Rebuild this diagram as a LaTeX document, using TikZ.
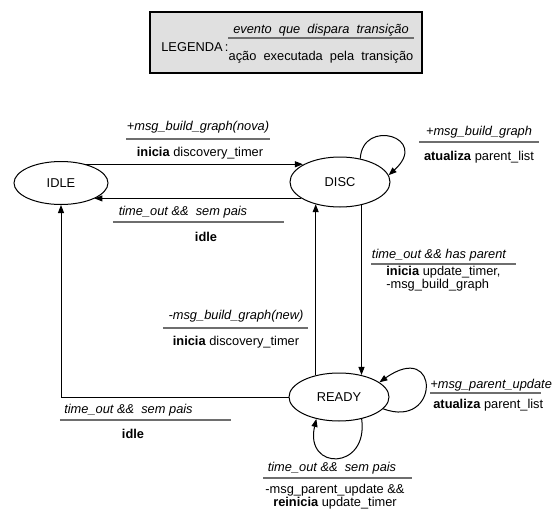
\documentclass[tikz,border=0pt]{standalone}
\usepackage{fontspec}
\setmainfont{Liberation Sans}
\usetikzlibrary{arrows.meta, shapes.geometric}

\tikzset{
  my_state/.style={ellipse, draw, line width=0.020000cm, fill=white, inner sep=0pt, font=\fontsize{7.3}{8}\selectfont},
  my_event/.style={inner sep=0pt, font=\fontsize{7.3}{8}\selectfont\itshape},
  my_action/.style={inner sep=0pt, align=center, font=\fontsize{7.3}{7.6}\selectfont},
  my_rule/.style={line width=0.030000cm, draw=my_dark},
  my_arrow/.style={line width=0.020000cm, -{Triangle[length=0.160000cm,width=0.120000cm]}},
}

\begin{document}
\begin{tikzpicture}
\definecolor{my_grey}{RGB}{224,224,224}
\definecolor{my_dark}{RGB}{110,110,110}
\useasboundingbox (0.000000, 0.000000) rectangle (11.160000, -10.300000);
\draw[line width=0.030000cm, fill=my_grey] (3.000000, -0.240000) rectangle (8.440000, -1.460000);
\node[my_action, anchor=west] (lgd) at (3.220000, -0.940000) {LEGENDA\,:};
\node[my_event] (lgd_ev) at (6.420000, -0.600000) {evento\ \ que\ \ dispara\ \ transição};
\node[my_action] (lgd_act) at (6.420000, -1.140000) {ação\ \ executada\ \ pela\ \ transição};
\draw[my_rule] (lgd_act.west |- 0,-0.760000) -- (lgd_act.east |- 0,-0.760000);
\node[my_state, minimum width=1.880000cm, minimum height=0.860000cm] (idle) at (1.220000, -3.660000) {IDLE};
\node[my_state, minimum width=2.000000cm, minimum height=1.000000cm] (disc) at (6.800000, -3.640000) {DISC};
\node[my_state, minimum width=2.000000cm, minimum height=0.960000cm] (ready) at (6.780000, -7.940000) {READY};
\draw[my_arrow] (idle.37) -- (idle.37 -| disc.155);
\draw[my_arrow] (disc.203) -- (disc.203 -| idle.335);
\draw[my_arrow] (disc.313) -- (disc.313 |- ready.45);
\draw[my_arrow] (ready.137) -- (ready.137 |- disc.222);
\draw[my_arrow] (ready.west) -| (idle.south);
\draw[my_arrow] (disc.49) .. controls +(0.040000, 0.820000) and +(0.840000, 0.760000) .. (disc.8);
\draw[my_arrow] (ready.345) .. controls +(1.140000, -0.420000) and +(1.220000, 0.860000) .. (ready.20);
\draw[my_arrow] (ready.316) .. controls +(0.140000, -1.040000) and +(-0.240000, -1.040000) .. (ready.224);
\node[my_event] (ev_nova) at (3.960000, -2.540000) {+msg\_build\_graph(nova)};
\draw[my_rule] (2.520000, -2.780000) -- (5.400000, -2.780000);
\node[my_action] (act_nova) at (4.000000, -3.060000) {\textbf{inicia} discovery\_timer};
\node[my_event] (ev_disc_idle) at (3.660000, -4.240000) {time\_out \&\&\ \ sem pais};
\draw[my_rule] (2.260000, -4.440000) -- (5.680000, -4.440000);
\node[my_action] (act_disc_idle) at (4.120000, -4.740000) {\textbf{idle}};
\node[my_event] (ev_disc_loop) at (9.580000, -2.640000) {+msg\_build\_graph};
\draw[my_rule] (8.380000, -2.840000) -- (10.780000, -2.840000);
\node[my_action] (act_disc_loop) at (9.580000, -3.140000) {\textbf{atualiza} parent\_list};
\node[my_event] (ev_parent) at (8.780000, -5.100000) {time\_out \&\& has parent};
\draw[my_rule] (7.420000, -5.280000) -- (10.320000, -5.280000);
\node[my_action, anchor=west, align=left] (act_parent) at (7.720000, -5.580000) {\textbf{inicia} update\_timer,\\-msg\_build\_graph};
\node[my_event] (ev_new) at (4.720000, -6.320000) {-msg\_build\_graph(new)};
\draw[my_rule] (3.260000, -6.560000) -- (6.160000, -6.560000);
\node[my_action] (act_new) at (4.720000, -6.840000) {\textbf{inicia} discovery\_timer};
\node[my_event] (ev_ready_idle) at (2.570000, -8.200000) {time\_out \&\&\ \ sem pais};
\draw[my_rule] (1.200000, -8.400000) -- (4.620000, -8.400000);
\node[my_action] (act_ready_idle) at (2.660000, -8.680000) {\textbf{idle}};
\node[my_event, anchor=west] (ev_update) at (8.600000, -7.700000) {+msg\_parent\_update};
\draw[my_rule] (8.600000, -7.860000) -- (10.820000, -7.860000);
\node[my_action, anchor=west] (act_update) at (8.660000, -8.100000) {\textbf{atualiza} parent\_list};
\node[my_event] (ev_ready_loop) at (6.640000, -9.360000) {time\_out \&\&\ \ sem pais};
\draw[my_rule] (5.260000, -9.560000) -- (8.240000, -9.560000);
\node[my_action] (act_ready_loop) at (6.700000, -9.940000) {-msg\_parent\_update \&\&\\\textbf{reinicia} update\_timer};
\end{tikzpicture}
\end{document}
